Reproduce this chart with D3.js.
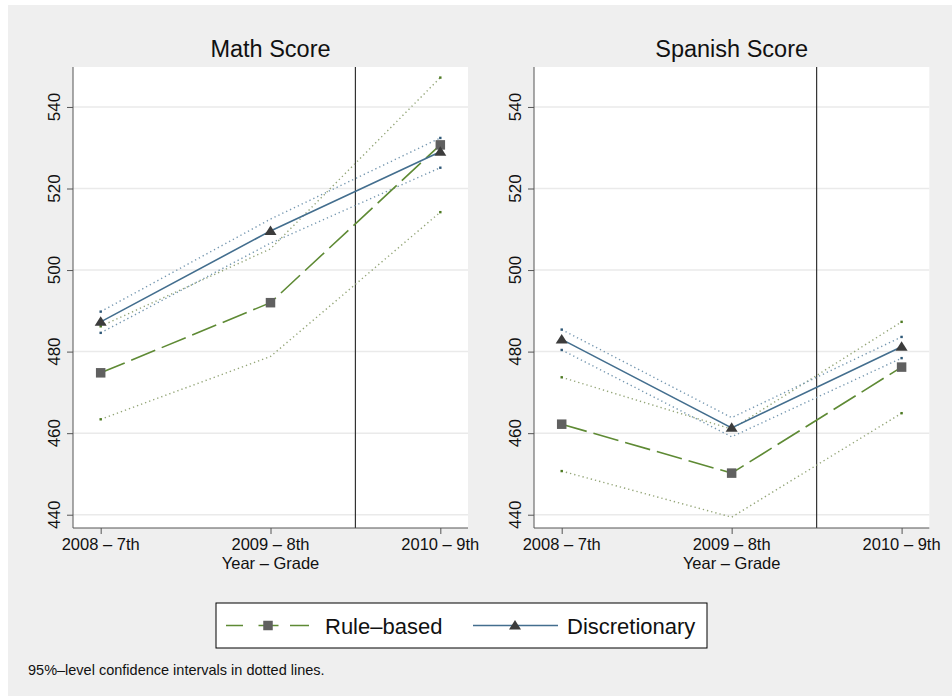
<!DOCTYPE html>
<html>
<head>
<meta charset="utf-8">
<script src="https://cdn.jsdelivr.net/npm/d3@7"></script>
<style>
  html, body { margin: 0; padding: 0; background: #ffffff; }
  svg { display: block; font-family: "Liberation Sans", Arial, Helvetica, sans-serif; }
</style>
</head>
<body>
<svg id="chart" width="952" height="696"></svg>
<script>
// Category axis (year – grade)
const grades = ["2008 – 7th", "2009 – 8th", "2010 – 9th"];
const yTicks = [440, 460, 480, 500, 520, 540];
const panelTitles = ["Math Score", "Spanish Score"];
const seriesNames = ["Rule–based", "Discretionary"];

// Math score: means with 95% confidence bounds
const mathRule   = [474.8, 492.0, 530.7];
const mathRuleLo = [463.4, 478.8, 514.2];
const mathRuleHi = [486.2, 505.2, 547.2];
const mathDisc   = [487.3, 509.6, 529.0];
const mathDiscLo = [484.6, 506.6, 525.1];
const mathDiscHi = [489.8, 512.5, 532.4];

// Spanish score: means with 95% confidence bounds
const spanRule   = [462.2, 450.2, 476.2];
const spanRuleLo = [450.7, 439.4, 464.9];
const spanRuleHi = [473.7, 461.0, 487.3];
const spanDisc   = [483.0, 461.3, 481.2];
const spanDiscLo = [480.4, 459.1, 478.4];
const spanDiscHi = [485.4, 463.8, 483.6];

const footnote = "95%–level confidence intervals in dotted lines.";
const xAxisTitle = "Year – Grade";

const GREEN = "#5e8a34", GREEN_CI = "#93a577", GREEN_END = "#4d7a22";
const BLUE = "#436e8e", BLUE_CI = "#7597b0", BLUE_END = "#2f5877";
const SQUARE_FILL = "#606060", TRI_FILL = "#3c3c3c";

const svg = d3.select("#chart");

// outer graph region
svg.append("rect").attr("x", 8).attr("y", 5).attr("width", 944).attr("height", 691).attr("fill", "#efefef");

const panels = [
  { title: panelTitles[0], left: 73, right: 468,
    rule: mathRule, ruleLo: mathRuleLo, ruleHi: mathRuleHi,
    disc: mathDisc, discLo: mathDiscLo, discHi: mathDiscHi },
  { title: panelTitles[1], left: 534, right: 929.3,
    rule: spanRule, ruleLo: spanRuleLo, ruleHi: spanRuleHi,
    disc: spanDisc, discLo: spanDiscLo, discHi: spanDiscHi }
];

const plotTop = 67, plotBottom = 528;
const y = d3.scaleLinear().domain([436.74, 549.8]).range([plotBottom, plotTop]);

const trianglePath = "M0,-5.5L6,4L-6,4Z";

panels.forEach(p => {
  const x = d3.scaleLinear().domain([-0.163, 2.163]).range([p.left, p.right]);
  const g = svg.append("g");

  // plot region
  g.append("rect").attr("x", p.left).attr("y", plotTop)
    .attr("width", p.right - p.left).attr("height", plotBottom - plotTop).attr("fill", "#ffffff");

  // horizontal grid
  g.selectAll("line.grid").data(yTicks).enter().append("line")
    .attr("x1", p.left).attr("x2", p.right)
    .attr("y1", d => y(d)).attr("y2", d => y(d))
    .attr("stroke", "#eaeaea").attr("stroke-width", 1.5);

  // reference line between 2009 and 2010
  g.append("line").attr("x1", x(1.5)).attr("x2", x(1.5))
    .attr("y1", plotTop).attr("y2", plotBottom)
    .attr("stroke", "#333333").attr("stroke-width", 1.2);

  // y axis
  const ya = g.append("g").attr("transform", `translate(${p.left},0)`)
    .call(d3.axisLeft(y).tickValues(yTicks).tickSize(6).tickFormat("").tickSizeOuter(0));
  ya.select(".domain").attr("stroke", "#555555").attr("d", `M0,${plotTop}V${plotBottom}`);
  ya.selectAll(".tick line").attr("stroke", "#555555");
  g.selectAll("text.ylab").data(yTicks).enter().append("text")
    .attr("transform", d => `translate(${p.left - 13},${y(d)}) rotate(-90)`)
    .attr("text-anchor", "middle").attr("font-size", 17).attr("fill", "#111")
    .text(d => d);

  // x axis
  const xa = g.append("g").attr("transform", `translate(0,${plotBottom})`)
    .call(d3.axisBottom(x).tickValues([0, 1, 2]).tickSize(6).tickFormat("").tickSizeOuter(0));
  xa.select(".domain").attr("stroke", "#555555").attr("d", `M${p.left},0H${p.right}`);
  xa.selectAll(".tick line").attr("stroke", "#555555");
  g.selectAll("text.xlab").data(grades).enter().append("text")
    .attr("x", (d, i) => x(i)).attr("y", plotBottom + 22)
    .attr("text-anchor", "middle").attr("font-size", 16.5).attr("fill", "#111")
    .text(d => d);
  g.append("text").attr("x", x(1)).attr("y", plotBottom + 41)
    .attr("text-anchor", "middle").attr("font-size", 16.5).attr("fill", "#111")
    .text(xAxisTitle);

  // panel title
  g.append("text").attr("x", (p.left + p.right) / 2).attr("y", 57)
    .attr("text-anchor", "middle").attr("font-size", 23.5).attr("fill", "#111")
    .text(p.title);

  const line = d3.line().x((d, i) => x(i)).y(d => y(d));

  // confidence bounds (dotted) with small end points
  const ci = (vals, col, endCol) => {
    g.append("path").attr("d", line(vals)).attr("fill", "none")
      .attr("stroke", col).attr("stroke-width", 1.4).attr("stroke-dasharray", "1.3,3");
    [0, vals.length - 1].forEach(i => {
      g.append("rect").attr("x", x(i) - 1.2).attr("y", y(vals[i]) - 1.2)
        .attr("width", 2.4).attr("height", 2.4).attr("fill", endCol);
    });
  };
  ci(p.ruleLo, GREEN_CI, GREEN_END);
  ci(p.ruleHi, GREEN_CI, GREEN_END);
  ci(p.discLo, BLUE_CI, BLUE_END);
  ci(p.discHi, BLUE_CI, BLUE_END);

  // rule-based series
  g.append("path").attr("d", line(p.rule)).attr("fill", "none")
    .attr("stroke", GREEN).attr("stroke-width", 1.6).attr("stroke-dasharray", "26,7");
  g.selectAll("rect.sq").data(p.rule).enter().append("rect")
    .attr("x", (d, i) => x(i) - 4.75).attr("y", d => y(d) - 4.75)
    .attr("width", 9.5).attr("height", 9.5).attr("fill", SQUARE_FILL);

  // discretionary series
  g.append("path").attr("d", line(p.disc)).attr("fill", "none")
    .attr("stroke", BLUE).attr("stroke-width", 1.6);
  g.selectAll("path.tri").data(p.disc).enter().append("path")
    .attr("d", trianglePath)
    .attr("transform", (d, i) => `translate(${x(i)},${y(d)})`)
    .attr("fill", TRI_FILL);
});

// legend
const lg = svg.append("g");
lg.append("rect").attr("x", 216).attr("y", 603).attr("width", 491).attr("height", 45)
  .attr("fill", "#ffffff").attr("stroke", "#000000").attr("stroke-width", 1);
const ly = 625.5;
lg.append("line").attr("x1", 226).attr("x2", 309).attr("y1", ly).attr("y2", ly)
  .attr("stroke", GREEN).attr("stroke-width", 1.6).attr("stroke-dasharray", "17,15.5,20,11.5,19");
lg.append("rect").attr("x", 268 - 4.75).attr("y", ly - 4.75).attr("width", 9.5).attr("height", 9.5)
  .attr("fill", SQUARE_FILL);
lg.append("text").attr("x", 325).attr("y", 634).attr("font-size", 22).attr("fill", "#111")
  .text(seriesNames[0]);
lg.append("line").attr("x1", 473).attr("x2", 558).attr("y1", ly).attr("y2", ly)
  .attr("stroke", BLUE).attr("stroke-width", 1.6);
lg.append("path").attr("d", trianglePath).attr("transform", `translate(515,${ly})`).attr("fill", TRI_FILL);
lg.append("text").attr("x", 567).attr("y", 634).attr("font-size", 22).attr("fill", "#111")
  .text(seriesNames[1]);

// note
svg.append("text").attr("x", 28).attr("y", 675).attr("font-size", 14.5).attr("fill", "#111")
  .text(footnote);
</script>
</body>
</html>
